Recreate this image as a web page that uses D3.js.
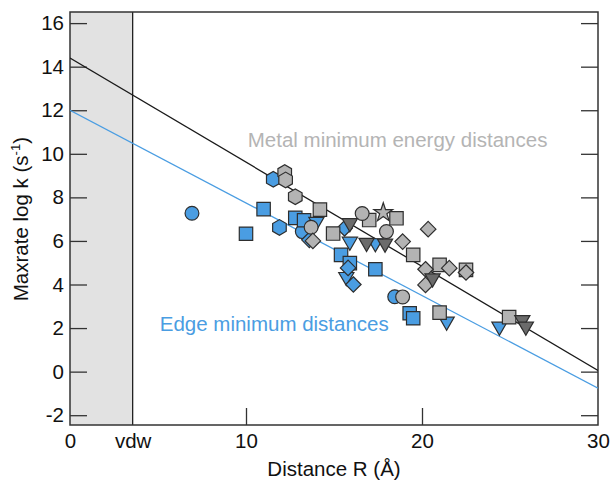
<!DOCTYPE html>
<html>
<head>
<meta charset="utf-8">
<script src="https://cdn.jsdelivr.net/npm/d3@7"></script>
<style>
  body { margin: 0; background: #fff; }
  svg text { font-family: "Liberation Sans", Arial, Helvetica, sans-serif; }
</style>
</head>
<body>
<svg id="chart" width="614" height="484"></svg>
<script>
// x ticks (value, label)
const xTicks = [0, 3.56, 10, 20, 30];
const xTickLabels = ["0", "vdw", "10", "20", "30"];
const yTicks = [-2, 0, 2, 4, 6, 8, 10, 12, 14, 16];
const vdw = 3.56;

// fit lines: [x, logk] at both ends
const metalLine = [[0, 14.4], [30, 0.05]];
const edgeLine = [[0, 12.0], [30, -0.76]];

// edge minimum distances (blue)
const blueCircles = [[6.93, 7.27], [13.2, 6.43], [18.45, 3.44]];
const blueSquares = [[10.0, 6.33], [11.0, 7.46], [12.8, 7.06], [13.3, 6.95], [15.4, 5.36],
  [15.9, 4.98], [17.35, 4.7], [19.3, 2.68], [19.5, 2.45]];
const blueHexagons = [[11.55, 8.83], [11.9, 6.62]];
const blueTriangles = [[14.0, 6.88], [15.9, 5.97], [17.35, 5.9], [15.7, 4.35], [21.4, 2.3], [24.4, 2.07]];
const blueDiamonds = [[13.6, 6.05], [15.6, 6.58], [15.8, 4.76], [16.1, 4.0]];

// metal minimum energy distances (grey)
const greyCircles = [[13.7, 6.63], [16.6, 7.26], [17.98, 6.43], [18.9, 3.43]];
const greySquares = [[14.2, 7.44], [14.95, 6.34], [17.0, 6.96], [18.55, 7.04], [19.5, 5.36],
  [21.0, 4.9], [22.5, 4.67], [21.0, 2.71], [24.95, 2.5]];
const greyHexagons = [[12.2, 9.14], [12.25, 8.8], [12.8, 8.03]];
const greyDiamonds = [[13.8, 6.0], [18.9, 5.97], [20.35, 6.54], [21.55, 4.75], [20.2, 4.7],
  [20.2, 3.98], [22.5, 4.55]];
const greyStars = [[17.8, 7.3]];
const darkTriangles = [[15.9, 6.82], [16.85, 5.92], [17.9, 5.88], [20.6, 4.29], [25.7, 2.37], [25.9, 2.07]];

const blue = "#4a9de2", grey = "#b3b3b3", dark = "#6b6b6b", edge = "#2e2e2e";
const fontSize = '20.5px';

let svg = d3.select('svg#chart'),
    margin = {top: 12, right: 16, bottom: 59, left: 70},
    width = +svg.attr("width") - margin.left - margin.right,
    height = +svg.attr("height") - margin.top - margin.bottom;

let x = d3.scaleLinear().domain([0, 30]).range([0, width]);
let y = d3.scaleLinear().domain([-2.45, 16.51]).range([height, 0]);

let g = svg.append('g').attr('transform', 'translate(' + margin.left + ',' + margin.top + ')');

svg.append('clipPath').attr('id', 'clip')
    .append('rect').attr('width', width).attr('height', height);

// shaded vdw region
g.append('rect')
    .attr('x', 0).attr('y', 0)
    .attr('width', x(vdw)).attr('height', height)
    .attr('fill', '#e2e2e2');
g.append('line')
    .attr('x1', x(vdw)).attr('x2', x(vdw))
    .attr('y1', 0).attr('y2', height)
    .attr('stroke', '#222').attr('stroke-width', 1.3);

// axes, ticks pointing inward
let tickLen = 17;
let yLeft = d3.axisLeft(y).tickValues(yTicks).tickSize(-tickLen).tickPadding(6)
    .tickFormat(d => String(d));
let yRight = d3.axisRight(y).tickValues(yTicks).tickSize(-tickLen).tickFormat('');
let xBottom = d3.axisBottom(x).tickValues(xTicks).tickSizeInner(-tickLen).tickSizeOuter(0)
    .tickPadding(8)
    .tickFormat((d, i) => xTickLabels[i]);

g.append('g').call(yLeft);
g.append('g').attr('transform', 'translate(' + width + ',0)').call(yRight);
let gb = g.append('g').attr('transform', 'translate(0,' + height + ')').call(xBottom);

// only 10 and 20 carry a tick mark on the bottom
gb.selectAll('.tick line').attr('display', d => (d === 10 || d === 20) ? null : 'none');

g.selectAll('.domain').remove();
g.selectAll('.tick line').attr('stroke', '#333').attr('stroke-width', 1.3);
g.selectAll('.tick text').attr('fill', '#111').style('font-size', fontSize);

// frame
g.append('rect').attr('width', width).attr('height', height)
    .attr('fill', 'none').attr('stroke', '#333').attr('stroke-width', 1.5);

// fit lines
let line = d3.line().x(d => x(d[0])).y(d => y(d[1]));
let lines = g.append('g').attr('clip-path', 'url(#clip)');
lines.append('path').datum(edgeLine).attr('d', line)
    .attr('fill', 'none').attr('stroke', blue).attr('stroke-width', 1.3);
lines.append('path').datum(metalLine).attr('d', line)
    .attr('fill', 'none').attr('stroke', '#1a1a1a').attr('stroke-width', 1.3);

// markers
function hexagon() {
    return {
        draw(ctx, size) {
            let r = Math.sqrt(size / (1.5 * Math.sqrt(3)));
            for (let i = 0; i < 6; i++) {
                let a = Math.PI / 6 + Math.PI / 3 * i;
                let px = r * Math.cos(a), py = r * Math.sin(a);
                if (i === 0) ctx.moveTo(px, py); else ctx.lineTo(px, py);
            }
            ctx.closePath();
        }
    };
}
function invTriangle() {
    return {
        draw(ctx, size) {
            let s = Math.sqrt(size / (Math.sqrt(3) / 4));
            let h = s * Math.sqrt(3) / 2;
            ctx.moveTo(-s / 2, -h / 3);
            ctx.lineTo(s / 2, -h / 3);
            ctx.lineTo(0, 2 * h / 3);
            ctx.closePath();
        }
    };
}
function diamond() {
    return {
        draw(ctx, size) {
            let r = Math.sqrt(size / 2);
            ctx.moveTo(0, -r); ctx.lineTo(r, 0); ctx.lineTo(0, r); ctx.lineTo(-r, 0);
            ctx.closePath();
        }
    };
}

function drawSeries(data, type, size, fill) {
    g.append('g').selectAll('path')
        .data(data)
        .enter().append('path')
        .attr('transform', d => 'translate(' + x(d[0]) + ',' + y(d[1]) + ')')
        .attr('d', d3.symbol().type(type).size(size))
        .attr('fill', fill)
        .attr('stroke', edge)
        .attr('stroke-width', 1.2);
}

drawSeries(blueCircles, d3.symbolCircle, 150, blue);
drawSeries(blueSquares, d3.symbolSquare, 180, blue);
drawSeries(blueHexagons, hexagon(), 160, blue);
drawSeries(blueTriangles, invTriangle(), 100, blue);
drawSeries(blueDiamonds, diamond(), 120, blue);

drawSeries(greyHexagons, hexagon(), 160, grey);
drawSeries(greySquares, d3.symbolSquare, 180, grey);
drawSeries(greyCircles, d3.symbolCircle, 150, grey);
drawSeries(greyDiamonds, diamond(), 120, grey);
drawSeries(greyStars, d3.symbolStar, 110, grey);
drawSeries(darkTriangles, invTriangle(), 100, dark);

// annotations
g.append('text')
    .attr('x', x(10.1)).attr('y', y(10.3))
    .attr('fill', '#b4b4b4').style('font-size', fontSize)
    .text('Metal minimum energy distances');
g.append('text')
    .attr('x', x(5.1)).attr('y', y(1.86))
    .attr('fill', blue).style('font-size', fontSize)
    .text('Edge minimum distances');

// axis titles
svg.append('text')
    .attr('x', margin.left + x(15)).attr('y', 476)
    .attr('text-anchor', 'middle').attr('fill', '#111').style('font-size', fontSize)
    .text('Distance R (Å)');
let yt = svg.append('text')
    .attr('transform', 'translate(28,' + (margin.top + y(7)) + ') rotate(-90)')
    .attr('text-anchor', 'middle').attr('fill', '#111').style('font-size', fontSize);
yt.append('tspan').text('Maxrate log k (s');
yt.append('tspan').attr('dy', -8).style('font-size', '13px').text('-1');
yt.append('tspan').attr('dy', 8).text(')');
</script>
</body>
</html>
